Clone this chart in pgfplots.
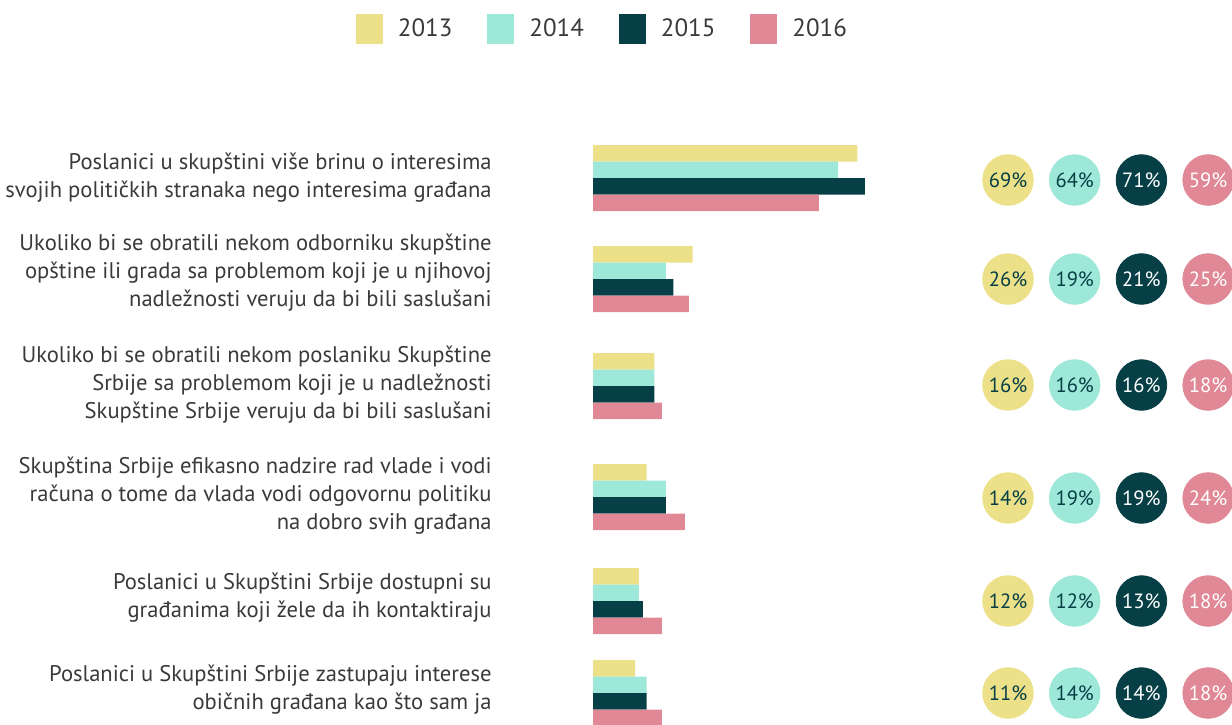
\documentclass[border=0pt]{standalone}
\usepackage{fontspec}
\setmainfont{PT Sans}
\usepackage{pgfplots}
\usepackage{pgfplotstable}
\pgfplotsset{compat=1.18}
\definecolor{cY}{HTML}{ECE088}
\definecolor{cC}{HTML}{9EE8D9}
\definecolor{cD}{HTML}{073F46}
\definecolor{cP}{HTML}{E08895}
\definecolor{txt}{HTML}{3A3A3A}
\pgfplotstableread{
top cy v13 v14 v15 v16
145 180 69 64 71 59
246 279 26 19 21 25
353 385 16 16 16 18
464 498 14 19 19 24
568 601 12 12 13 18
660 693 11 14 14 18
}\data
\begin{document}
\begin{tikzpicture}
\begin{axis}[name=ax, scale only axis, width=616pt, height=362pt,
 xmin=-154.83, xmax=166.84, ymin=0, ymax=724, y dir=reverse,
 axis lines=none, xbar, bar width=8.25pt, bar shift=0pt,
 legend columns=4,
 legend style={draw=none, fill=none, at={(0.489,0.96)}, anchor=center,
   font=\fontsize{12.5}{15}\selectfont, text=txt,
   nodes={inner xsep=1pt},
   /tikz/every even column/.append style={column sep=16.5pt}},
 legend image code/.code={\path[#1] (0pt,-7.5pt) rectangle (13.5pt,7.5pt); \path[draw=none,fill=none] (0pt,-7.5pt) rectangle (20pt,7.5pt);},
]
\addplot[fill=cY, draw=none] table[x=v13, y expr=\thisrow{top}+8.25] {\data};
\addplot[fill=cC, draw=none] table[x=v14, y expr=\thisrow{top}+24.75] {\data};
\addplot[fill=cD, draw=none] table[x=v15, y expr=\thisrow{top}+41.25] {\data};
\addplot[fill=cP, draw=none] table[x=v16, y expr=\thisrow{top}+57.75] {\data};
\legend{2013,2014,2015,2016}
\tikzset{lab/.style={anchor=east, align=right, text=txt, inner xsep=0pt, font=\fontsize{11.3}{14}\selectfont}}
\node[lab] at (axis cs:-26.37,178) {Poslanici u skupštini više brinu o interesima\\svojih političkih stranaka nego interesima građana};
\node[lab] at (axis cs:-26.37,273) {Ukoliko bi se obratili nekom odborniku skupštine\\opštine ili grada sa problemom koji je u njihovoj\\nadležnosti veruju da bi bili saslušani};
\node[lab] at (axis cs:-26.37,385) {Ukoliko bi se obratili nekom poslaniku Skupštine\\Srbije sa problemom koji je u nadležnosti\\Skupštine Srbije veruju da bi bili saslušani};
\node[lab] at (axis cs:-26.37,496) {Skupština Srbije efikasno nadzire rad vlade i vodi\\računa o tome da vlada vodi odgovornu politiku\\na dobro svih građana};
\node[lab] at (axis cs:-26.37,598) {Poslanici u Skupštini Srbije dostupni su\\građanima koji žele da ih kontaktiraju};
\node[lab] at (axis cs:-26.37,690) {Poslanici u Skupštini Srbije zastupaju interese\\običnih građana kao što sam ja};
\end{axis}
\begin{axis}[at={(ax.south west)}, anchor=south west, scale only axis, width=616pt, height=362pt,
 xmin=-15.11, xmax=3.358, ymin=0, ymax=724, y dir=reverse, axis lines=none, clip=false,
 point meta=explicit,
 /pgf/number format/assume math mode=true,
 nodes near coords={\pgfmathprintnumber{\pgfplotspointmeta}\%},
 every node near coord/.append style={anchor=center, font=\fontsize{10.3}{11}\selectfont},
]
\addplot[only marks, mark=*, mark size=12.65pt, color=cY, mark options={fill=cY, draw=cY},
  every node near coord/.append style={text=cD}] table[x expr=0, y=cy, meta=v13] {\data};
\addplot[only marks, mark=*, mark size=12.65pt, color=cC, mark options={fill=cC, draw=cC},
  every node near coord/.append style={text=cD}] table[x expr=1, y=cy, meta=v14] {\data};
\addplot[only marks, mark=*, mark size=12.65pt, color=cD, mark options={fill=cD, draw=cD},
  every node near coord/.append style={text=white}] table[x expr=2, y=cy, meta=v15] {\data};
\addplot[only marks, mark=*, mark size=12.65pt, color=cP, mark options={fill=cP, draw=cP},
  every node near coord/.append style={text=white}] table[x expr=3, y=cy, meta=v16] {\data};
\end{axis}
\pgfresetboundingbox
\useasboundingbox (ax.south west) rectangle (ax.north east);
\end{tikzpicture}
\end{document}
